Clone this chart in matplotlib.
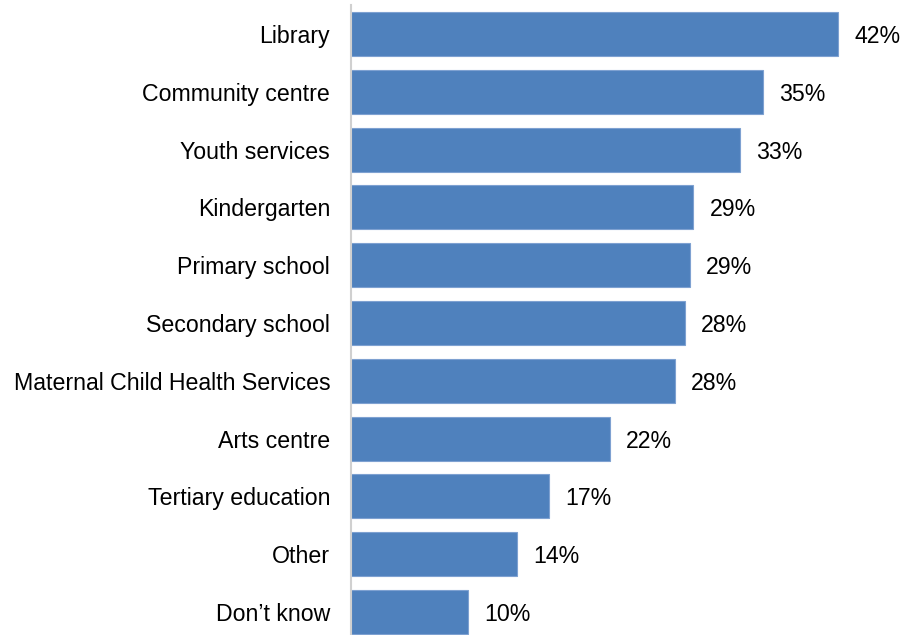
import matplotlib.pyplot as plt

plt.rcParams["font.family"] = ["Liberation Sans", "DejaVu Sans"]

categories = [
    "Library",
    "Community centre",
    "Youth services",
    "Kindergarten",
    "Primary school",
    "Secondary school",
    "Maternal Child Health Services",
    "Arts centre",
    "Tertiary education",
    "Other",
    "Don\u2019t know",
]
values = [42.0, 35.5, 33.5, 29.5, 29.2, 28.8, 27.9, 22.3, 17.1, 14.3, 10.1]
shown = [42, 35, 33, 29, 29, 28, 28, 22, 17, 14, 10]

BAR_COLOR = "#4f81bd"
EDGE_COLOR = "#7ea1d1"
FS = 16.7

fig = plt.figure(figsize=(9.02, 6.35), dpi=100)
ax = fig.add_axes([351 / 902, 1 - 641 / 635, 1 - 351 / 902, 636 / 635])

pos = list(range(len(categories)))
ax.barh(pos, values, height=0.76, color=BAR_COLOR, edgecolor=EDGE_COLOR, linewidth=0.8)

for y, v, s in zip(pos, values, shown):
    ax.text(v + 1.4, y, f"{s}%", va="center_baseline", ha="left", fontsize=FS, color="black")

ax.set_yticks(pos)
ax.set_yticklabels(categories, fontsize=FS, va="center_baseline")
ax.set_ylim(10.5, -0.5)
ax.set_xlim(0, 551 / 11.6)

ax.tick_params(axis="y", length=0, pad=15)
ax.set_xticks([])
for side in ["top", "right", "bottom"]:
    ax.spines[side].set_visible(False)
ax.spines["left"].set_color("#d0d0d0")
ax.spines["left"].set_linewidth(1.5)

fig.savefig("out.png", dpi=100)
